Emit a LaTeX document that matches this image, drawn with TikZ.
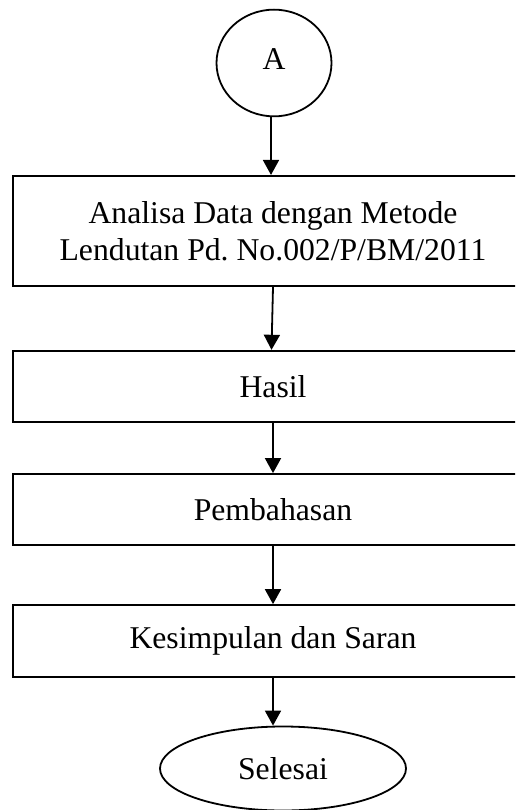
\documentclass[tikz,border=0pt]{standalone}
\usepackage{fontspec}
\setmainfont{Liberation Serif}
\usetikzlibrary{arrows.meta,shapes.geometric}
\frenchspacing
\begin{document}
\begin{tikzpicture}[x=1pt,y=-1pt,
  every node/.style={font=\fontsize{31.7}{36.5}\selectfont},
  procbox/.style={draw,line width=1.8pt,rectangle,minimum width=519.4pt,align=center,inner sep=0pt},
  termnode/.style={draw,line width=1.8pt,ellipse,inner sep=0pt},
  flow/.style={line width=1.8pt,-{Triangle[length=15pt,width=16pt]}}]
\useasboundingbox (0,0) rectangle (515,810);
\clip (0,0) rectangle (515,810);
\fill[white] (0,0) rectangle (515,810);
\node[termnode,minimum width=115pt,minimum height=106.7pt] (a) at (274,63) {\raisebox{8pt}{A}};
\node[procbox,minimum height=110.3pt] (b1) at (273,231) {Analisa Data dengan Metode\\Lendutan Pd. No.002/P/BM/2011};
\node[procbox,minimum height=71.6pt] (b2) at (273,386.5) {Hasil};
\node[procbox,minimum height=71pt] (b3) at (273,509.5) {Pembahasan};
\node[procbox,minimum height=71.7pt] (b4) at (273,640.9) {Kesimpulan dan Saran};
\node[termnode,minimum width=246pt,minimum height=84pt] (e) at (283,768.5) {Selesai};
\draw[flow] (a.south -| 271,0) -- (b1.north -| 271,0);
\draw[flow] (b1.south -| 273,0) -- (b2.north -| 271.5,0);
\draw[flow] (b2.south -| 273,0) -- (b3.north -| 273,0);
\draw[flow] (b3.south -| 273,0) -- (b4.north -| 273,0);
\draw[flow] (b4.south -| 273,0) -- (e.north -| 273,0);
\end{tikzpicture}
\end{document}
